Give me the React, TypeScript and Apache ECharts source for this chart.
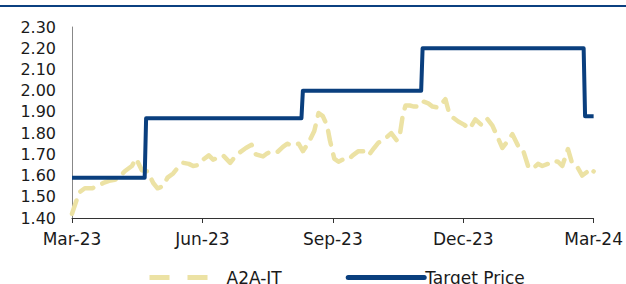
import React, { useEffect, useRef } from "react";
import * as echarts from "echarts";

const START = "2023-03-01";
const xTickLabels = ["Mar-23", "Jun-23", "Sep-23", "Dec-23", "Mar-24"];
const yMin = 1.4;
const yMax = 2.3;
const yStep = 0.1;

const priceDates = [
  "2023-03-01", "2023-03-03", "2023-03-06", "2023-03-10", "2023-03-15", "2023-03-19", "2023-03-23", "2023-03-27",
  "2023-03-31", "2023-04-03", "2023-04-07", "2023-04-12", "2023-04-15", "2023-04-19", "2023-04-23", "2023-04-27",
  "2023-04-30", "2023-05-04", "2023-05-07", "2023-05-11", "2023-05-14", "2023-05-18", "2023-05-22", "2023-05-25",
  "2023-05-29", "2023-06-01", "2023-06-05", "2023-06-08", "2023-06-12", "2023-06-15", "2023-06-20", "2023-06-24",
  "2023-06-27", "2023-07-01", "2023-07-05", "2023-07-08", "2023-07-13", "2023-07-16", "2023-07-20", "2023-07-23",
  "2023-07-27", "2023-07-30", "2023-08-03", "2023-08-07", "2023-08-10", "2023-08-14", "2023-08-18", "2023-08-21",
  "2023-08-24", "2023-08-27", "2023-08-29", "2023-09-01", "2023-09-04", "2023-09-07", "2023-09-11", "2023-09-14",
  "2023-09-18", "2023-09-22", "2023-09-25", "2023-09-29", "2023-10-02", "2023-10-06", "2023-10-11", "2023-10-15",
  "2023-10-17", "2023-10-19", "2023-10-21", "2023-10-24", "2023-10-27", "2023-10-30", "2023-11-02", "2023-11-06",
  "2023-11-09", "2023-11-13", "2023-11-15", "2023-11-18", "2023-11-20", "2023-11-23", "2023-11-27", "2023-12-01",
  "2023-12-05", "2023-12-09", "2023-12-13", "2023-12-17", "2023-12-21", "2023-12-25", "2023-12-28", "2024-01-01",
  "2024-01-04", "2024-01-08", "2024-01-11", "2024-01-15", "2024-01-18", "2024-01-22", "2024-01-25", "2024-01-29",
  "2024-02-01", "2024-02-05", "2024-02-08", "2024-02-12", "2024-02-15", "2024-02-19", "2024-02-22", "2024-02-26",
  "2024-02-28", "2024-03-01",
];
const priceValues = [
  1.42, 1.46, 1.52, 1.54, 1.54, 1.55, 1.565, 1.575,
  1.58, 1.59, 1.62, 1.645, 1.68, 1.625, 1.62, 1.565,
  1.54, 1.55, 1.59, 1.61, 1.635, 1.66, 1.655, 1.645,
  1.65, 1.675, 1.695, 1.675, 1.685, 1.695, 1.66, 1.695,
  1.71, 1.73, 1.745, 1.7, 1.69, 1.705, 1.715, 1.71,
  1.735, 1.75, 1.74, 1.75, 1.715, 1.755, 1.81, 1.895,
  1.88, 1.835, 1.765, 1.68, 1.665, 1.675, 1.675, 1.695,
  1.715, 1.715, 1.695, 1.73, 1.755, 1.77, 1.8, 1.765,
  1.79, 1.88, 1.93, 1.93, 1.925, 1.925, 1.95, 1.94,
  1.925, 1.92, 1.935, 1.96, 1.91, 1.875, 1.855, 1.84,
  1.82, 1.865, 1.84, 1.87, 1.835, 1.775, 1.73, 1.765,
  1.795, 1.74, 1.73, 1.645, 1.63, 1.655, 1.645, 1.655,
  1.67, 1.665, 1.645, 1.725, 1.655, 1.635, 1.6, 1.62,
  1.605, 1.62,
];

const targetDates = [
  "2023-03-01", "2023-04-21", "2023-04-22", "2023-08-09", "2023-08-10",
  "2023-11-01", "2023-11-02", "2024-02-23", "2024-02-24", "2024-03-01",
];
const targetValues = [1.59, 1.59, 1.87, 1.87, 2.0, 2.0, 2.2, 2.2, 1.88, 1.88];

const DAY = 86400000;
const dayOf = (d: string) => Math.round((Date.parse(d) - Date.parse(START)) / DAY);
const TOTAL_DAYS = dayOf("2024-03-01");
const X_INTERVAL = TOTAL_DAYS / 4;

const FONT = "DejaVu Sans";
const TEXT = "#1a1a1a";
const PRICE_COLOR = "#ece2a4";
const TARGET_COLOR = "#0a3f7e";

export default function App() {
  const ref = useRef<HTMLDivElement>(null);
  useEffect(() => {
    if (!ref.current) return;
    const chart = echarts.init(ref.current, undefined, { renderer: "svg" });
    chart.setOption({
      animation: false,
      backgroundColor: "#ffffff",
      grid: { left: 72, right: 32, top: 27, bottom: 66, containLabel: false },
      graphic: [
        {
          type: "rect",
          left: 0,
          top: 5,
          shape: { width: 626, height: 2 },
          style: { fill: "#0b4080" },
          silent: true,
        },
      ],
      legend: {
        top: 264,
        left: 142,
        itemWidth: 76,
        itemHeight: 14,
        itemGap: 64,
        itemStyle: { opacity: 0 },
        textStyle: { fontFamily: FONT, fontSize: 17, color: TEXT, padding: [0, 0, 0, -4] },
        data: [
          { name: "A2A-IT", lineStyle: { type: [20, 18], width: 5, cap: "butt" } },
          { name: "Target Price", lineStyle: { width: 5, cap: "round" } },
        ],
      },
      xAxis: {
        type: "value",
        min: 0,
        max: TOTAL_DAYS,
        interval: X_INTERVAL,
        splitLine: { show: false },
        axisLine: { show: true, lineStyle: { color: "#333333", width: 1 } },
        axisTick: { show: true, length: 5, lineStyle: { color: "#333333" } },
        axisLabel: {
          margin: 12,
          fontFamily: FONT,
          fontSize: 17,
          color: TEXT,
          formatter: (v: number) => xTickLabels[Math.round(v / X_INTERVAL)] ?? "",
        },
      },
      yAxis: {
        type: "value",
        min: yMin,
        max: yMax,
        interval: yStep,
        splitLine: { show: false },
        axisLine: { show: true, lineStyle: { color: "#888888", width: 1 } },
        axisTick: { show: false },
        axisLabel: {
          margin: 16,
          fontFamily: FONT,
          fontSize: 16,
          color: TEXT,
          formatter: (v: number) => v.toFixed(2),
        },
      },
      series: [
        {
          name: "A2A-IT",
          type: "line",
          symbol: "none",
          data: priceDates.map((d, i) => [dayOf(d), priceValues[i]]),
          lineStyle: { color: PRICE_COLOR, width: 4.5, type: [14, 10], cap: "round", join: "round" },
          itemStyle: { color: PRICE_COLOR },
          z: 2,
        },
        {
          name: "Target Price",
          type: "line",
          symbol: "none",
          data: targetDates.map((d, i) => [dayOf(d), targetValues[i]]),
          lineStyle: { color: TARGET_COLOR, width: 4, join: "round" },
          itemStyle: { color: TARGET_COLOR },
          z: 3,
        },
      ],
    });
    return () => chart.dispose();
  }, []);
  return (
    <div
      ref={ref}
      style={{ position: "absolute", left: 0, top: 0, width: 626, height: 284 }}
    />
  );
}
